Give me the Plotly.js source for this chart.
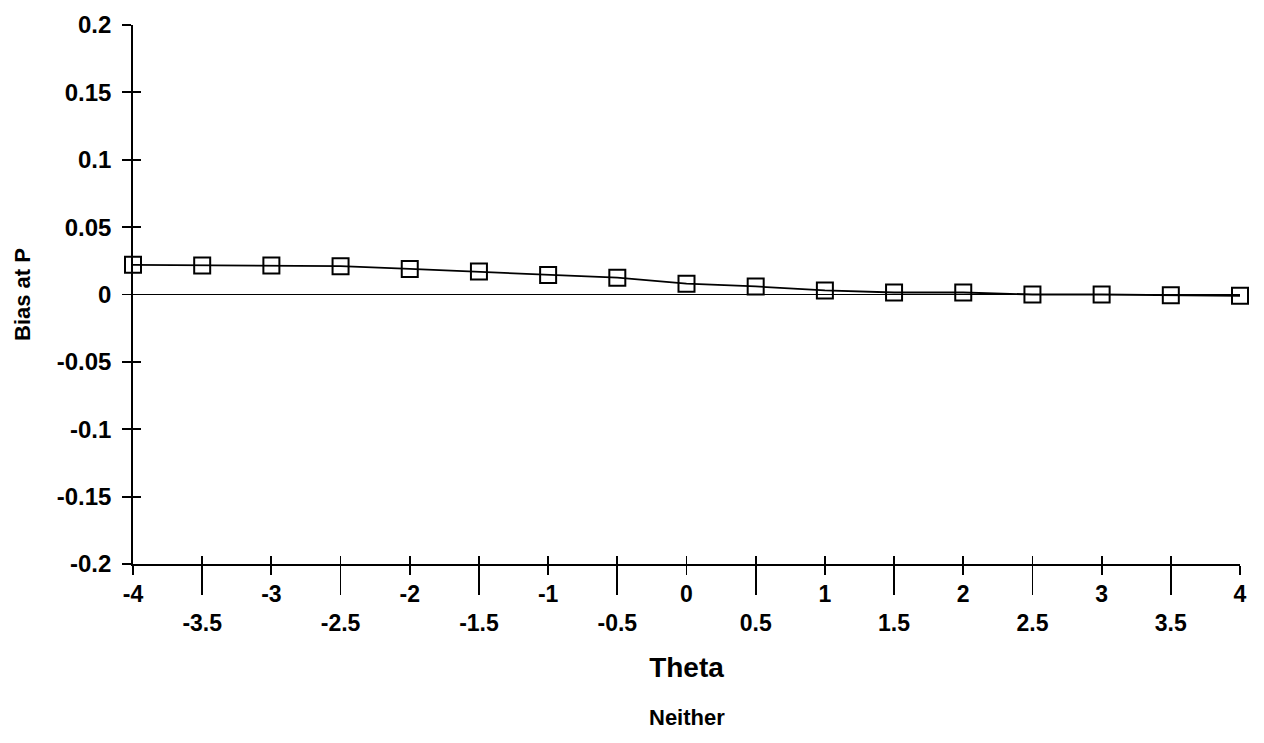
<!DOCTYPE html>
<html>
<head>
<meta charset="utf-8">
<script src="https://cdn.plot.ly/plotly-3.0.1.min.js"></script>
<style>html,body{margin:0;padding:0;background:#fff;}#chart{width:1264px;height:743px;}</style>
</head>
<body>
<div id="chart"></div>
<script>
// Data
const theta = [-4, -3.5, -3, -2.5, -2, -1.5, -1, -0.5, 0, 0.5, 1, 1.5, 2, 2.5, 3, 3.5, 4];
const bias = [0.022, 0.0215, 0.0215, 0.021, 0.019, 0.017, 0.0145, 0.0125, 0.008, 0.006, 0.003, 0.0015, 0.0015, 0.0, 0.0, -0.0005, -0.001];

const intTicks = [-4, -3, -2, -1, 0, 1, 2, 3, 4];
const intLabels = ['-4', '-3', '-2', '-1', '0', '1', '2', '3', '4'];
const halfTicks = [-3.5, -2.5, -1.5, -0.5, 0.5, 1.5, 2.5, 3.5];
const halfLabels = ['-3.5', '-2.5', '-1.5', '-0.5', '0.5', '1.5', '2.5', '3.5'];
const yTicks = [-0.2, -0.15, -0.1, -0.05, 0, 0.05, 0.1, 0.15, 0.2];
const yLabels = ['-0.2', '-0.15', '-0.1', '-0.05', '0', '0.05', '0.1', '0.15', '0.2'];

const FONT = '"Liberation Sans", Arial, sans-serif';

const traces = [
  {
    x: theta, y: bias, type: 'scatter', mode: 'lines+markers',
    line: {color: '#000', width: 1.8},
    marker: {symbol: 'square-open', size: 16, color: '#000', line: {width: 2, color: '#000'}},
    cliponaxis: false, showlegend: false, hoverinfo: 'x+y'
  },
  {x: theta, y: bias, xaxis: 'x2', yaxis: 'y2', mode: 'none', type: 'scatter', showlegend: false, hoverinfo: 'skip'},
  {x: theta, y: bias, xaxis: 'x3', yaxis: 'y2', mode: 'none', type: 'scatter', showlegend: false, hoverinfo: 'skip'}
];

const tickFont = {family: FONT, size: 23, color: '#000', weight: 'bold'};
const yTickFont = {family: FONT, size: 24, color: '#000', weight: 'bold'};

const layout = {
  width: 1264, height: 743,
  margin: {l: 133, r: 24, t: 25, b: 179},
  paper_bgcolor: '#fff', plot_bgcolor: '#fff',
  font: {family: FONT, color: '#000'},
  xaxis: {
    range: [-4, 4], showgrid: false, zeroline: false,
    showline: true, linecolor: '#000', linewidth: 1.8,
    tickmode: 'array', tickvals: intTicks, ticktext: intLabels,
    ticks: 'outside', ticklen: 9, tickwidth: 1.8, tickcolor: '#000',
    tickfont: tickFont,
    title: {text: '<b>Theta</b>', font: {family: FONT, size: 28, color: '#000'}, standoff: 51}
  },
  xaxis2: {
    overlaying: 'x', anchor: 'y', side: 'bottom', range: [-4, 4],
    showgrid: false, zeroline: false, showline: false,
    tickmode: 'array', tickvals: halfTicks, ticktext: halfLabels,
    ticks: 'outside', ticklen: 30, tickwidth: 1.8, tickcolor: '#000',
    ticklabelstandoff: 8,
    tickfont: tickFont
  },
  xaxis3: {
    overlaying: 'x', anchor: 'y2', side: 'bottom', range: [-4, 4],
    showgrid: false, zeroline: false, showline: false,
    tickmode: 'array', tickvals: theta,
    ticks: 'inside', ticklen: 8, tickwidth: 1.8, tickcolor: '#000',
    showticklabels: false
  },
  yaxis: {
    range: [-0.2, 0.2], showgrid: false,
    zeroline: true, zerolinecolor: '#000', zerolinewidth: 1.8,
    showline: true, linecolor: '#000', linewidth: 1.8,
    tickmode: 'array', tickvals: yTicks, ticktext: yLabels,
    ticks: 'outside', ticklen: 9, tickwidth: 1.8, tickcolor: '#000',
    ticklabelstandoff: 6,
    tickfont: yTickFont,
    title: {text: '<b>Bias at P</b>', font: {family: FONT, size: 22, color: '#000'}, standoff: 20}
  },
  yaxis2: {
    overlaying: 'y', anchor: 'x', side: 'left', range: [-0.2, 0.2],
    showgrid: false, zeroline: false, showline: false,
    tickmode: 'array', tickvals: yTicks,
    ticks: 'inside', ticklen: 8, tickwidth: 1.8, tickcolor: '#000',
    showticklabels: false
  },
  annotations: [
    {text: '<b>Neither</b>', xref: 'paper', yref: 'paper', x: 0.5, y: -0.285, xanchor: 'center', yanchor: 'middle',
     showarrow: false, font: {family: FONT, size: 22, color: '#000'}}
  ]
};

Plotly.newPlot('chart', traces, layout, {displayModeBar: false, staticPlot: true});
</script>
</body>
</html>
